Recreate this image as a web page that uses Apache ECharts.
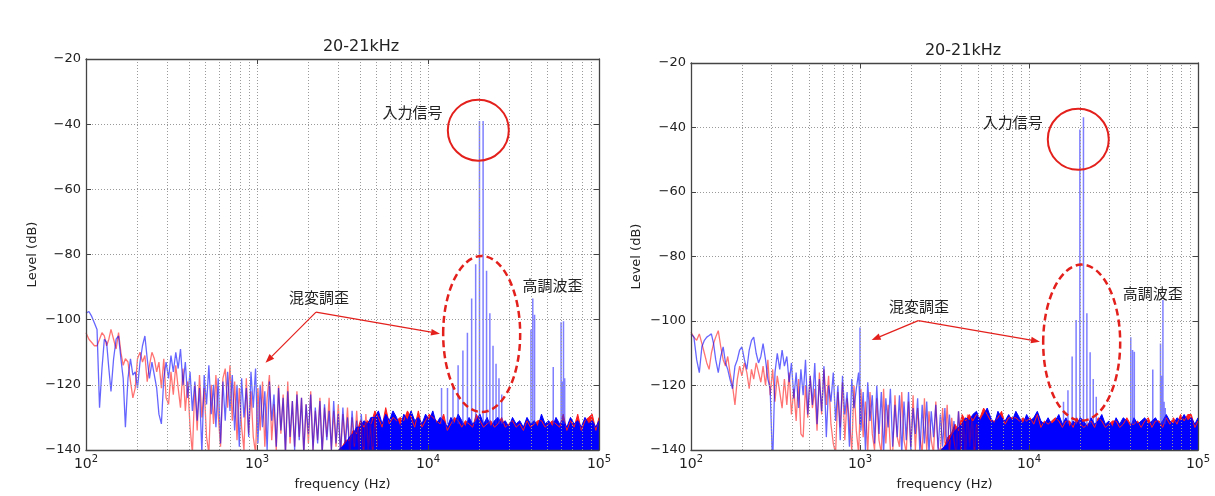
<!DOCTYPE html>
<html><head><meta charset="utf-8">
<script src="https://cdn.jsdelivr.net/npm/echarts@6/dist/echarts.min.js"></script>
<style>html,body{margin:0;padding:0;background:#fff}#c{width:1215px;height:496px}</style>
</head><body><div id="c"></div>
<script>
// ---------------- DATA ----------------
// frequency sampling grid of the low / mid band (Hz)
const freqLow = [
 100,104,108,112,116,120,124,128,132,136,
 140,145,150,155,160,165,170,176,182,188,
 194,200,207,214,221,228,235,243,251,259,
 267,276,285,294,304,314,324,335,346,357,
 369,381,393,406,419,433,447,461,476,491,
 507,523,540,557,575,593,612,632,652,673,
 695,717,740,764,788,813,839,866,894,922,
 951,981,1012,1044,1077,1111,1146,1182,1219,1257,
 1296,1337,1379,1422,1467,1513,1561,1610,1660,1712,
 1766,1821,1878,1937,1998,2061,2126,2193,2262,2333,
 2406,2482,2560,2640,2723,2809,2897,2988,3082,3179,
 3279,3382,3488,3598,3711,3828,3948,4072,4200,4332,
 4468,4608,4753,4902,5056];
// left panel, blue / red traces (dB)
const lowBlueL = [
 -98,-97.5,-99,-101,-103,-127,-115,-106,-107,-115,
 -122,-112,-106,-105,-112,-118,-133,-118,-112,-117,
 -116,-121,-113,-108,-105,-112,-118,-113,-117,-121,
 -129,-132,-118,-113,-118,-111,-116,-110,-115,-109,
 -120,-113,-124,-116,-128,-119,-131,-121,-141,-117,
 -126,-114,-129,-120,-133,-118,-138,-119,-131,-116,
 -128,-117,-134,-120,-139,-118,-130,-121,-136,-116,
 -127,-115,-138,-120,-133,-122,-140,-119,-131,-123,
 -139,-121,-134,-124,-141,-122,-136,-125,-140,-123,
 -137,-124,-141,-126,-135,-123,-140,-127,-138,-125,
 -141,-126,-137,-128,-140,-125,-138,-129,-141,-127,
 -139,-130,-141,-128,-138,-131,-141,-129,-139,-132,
 -141,-130,-139,-133,-141];
const lowRedL = [
 -104,-106,-107,-108,-108,-106,-104,-105,-108,-106,
 -103,-106,-109,-104,-110,-114,-112,-113,-119,-124,
 -121,-112,-110,-113,-111,-119,-114,-110,-112,-116,
 -113,-121,-112,-124,-126,-116,-123,-114,-121,-127,
 -115,-128,-119,-133,-141,-120,-134,-117,-130,-121,
 -136,-141,-120,-132,-117,-129,-139,-118,-115,-127,
 -114,-131,-119,-137,-121,-133,-140,-118,-135,-122,
 -136,-141,-121,-134,-119,-139,-124,-117,-137,-126,
 -140,-120,-135,-123,-141,-119,-138,-125,-139,-122,
 -136,-124,-141,-126,-138,-122,-140,-128,-137,-124,
 -141,-127,-136,-124,-140,-128,-139,-126,-141,-129,
 -138,-127,-141,-130,-139,-128,-140,-131,-141,-129,
 -140,-132,-141,-130,-139];
// right panel, blue / red traces (dB)
const lowBlueR = [
 -104,-105,-112,-116,-108,-106,-105,-104.5,-104,-107,
 -112,-116,-111,-108,-113,-115,-118,-121,-114,-112,
 -109,-108,-112,-115,-109,-106,-105,-110,-113,-111,
 -107,-112,-118,-121,-145,-116,-110,-115,-109,-114,
 -111,-119,-113,-124,-116,-127,-115,-123,-112,-129,
 -117,-126,-113,-132,-118,-128,-114,-136,-120,-125,
 -116,-131,-120,-137,-117,-129,-122,-139,-118,-127,
 -121,-116,-134,-122,-140,-119,-131,-123,-138,-120,
 -135,-122,-141,-124,-133,-121,-139,-126,-136,-123,
 -141,-125,-137,-122,-140,-127,-135,-124,-141,-126,
 -138,-125,-141,-128,-136,-126,-140,-129,-139,-127,
 -141,-129,-138,-131,-141,-128,-139,-132,-140,-130,
 -141,-131,-139,-133,-141];
const lowRedR = [
 -103.5,-105,-106,-104,-107,-110,-113,-115,-110,-107,
 -105,-103,-108,-112,-114,-111,-116,-120,-126,-118,
 -114,-117,-113,-116,-121,-115,-118,-113,-116,-119,
 -114,-120,-112,-123,-115,-125,-117,-122,-127,-118,
 -126,-116,-129,-121,-131,-118,-135,-136,-120,-130,
 -117,-127,-121,-134,-116,-129,-115,-126,-117,-132,
 -138,-141,-122,-133,-119,-137,-124,-131,-140,-120,
 -134,-141,-121,-136,-125,-141,-122,-135,-140,-124,
 -137,-141,-121,-138,-126,-140,-141,-123,-136,-139,
 -122,-137,-141,-125,-139,-123,-140,-127,-136,-141,
 -124,-140,-128,-137,-141,-125,-139,-141,-127,-138,
 -126,-141,-130,-137,-141,-128,-140,-131,-141,-129,
 -139,-130,-141,-132,-140];
// frequency grid of the dense noise floor (Hz)
const freqFloor = [
 3000,3150,3310,3470,3650,3830,4020,4220,4430,4650,
 4890,5130,5390,5660,5940,6240,6550,6880,7220,7580,
 7960,8360,8780,9220,9680,10160,10670,11200,11760,12350,
 12970,13620,14300,15010,15760,16550,17380,18250,19160,20120,
 21120,22180,23290,24450,25670,26960,28300,29720,31200,32760,
 34400,36120,37930,39830,41820,43910,46100,48410,50830,53370,
 56040,58840,61780,64870,68110,71520,75100,78850,82790,86930,
 91280,95840,100000];
// upper edge of the noise floor (dB)
const floorBlueL = [
 -140,-139,-138,-136,-135,-133,-133,-131,-132,-130,
 -130,-128,-132,-129,-131,-128,-130,-133,-129,-131,
 -128,-131,-130,-132,-129,-131,-128,-132,-130,-131,
 -133,-130,-132,-129,-131,-133,-130,-132,-131,-129,
 -132,-130,-133,-131,-130,-132,-131,-133,-130,-132,
 -131,-133,-130,-132,-131,-133,-129,-132,-131,-133,
 -130,-132,-131,-133,-130,-132,-131,-133,-130,-132,
 -131,-133,-131];
const floorRedL = [
 -140,-139,-137,-137,-134,-135,-131,-133,-131,-132,
 -128,-130,-133,-127,-132,-130,-131,-130,-131,-128,
 -130,-133,-128,-133,-131,-129,-130,-131,-132,-129,
 -134,-132,-130,-131,-133,-131,-132,-133,-129,-131,
 -133,-132,-131,-133,-132,-130,-133,-132,-131,-133,
 -132,-134,-131,-133,-132,-131,-131,-133,-132,-131,
 -132,-133,-129,-134,-131,-133,-129,-134,-131,-130,
 -129,-134,-130];
const floorBlueR = [
 -140,-139,-138,-136,-134,-133,-132,-130,-131,-129,
 -128,-131,-129,-127,-130,-132,-128,-130,-131,-129,
 -131,-128,-130,-132,-129,-131,-130,-128,-131,-132,
 -130,-132,-131,-129,-132,-130,-133,-131,-132,-130,
 -131,-133,-130,-132,-131,-129,-132,-131,-133,-130,
 -132,-130,-131,-133,-130,-132,-131,-130,-132,-131,
 -130,-132,-131,-129,-131,-132,-130,-131,-129,-131,
 -130,-132,-130];
const floorRedR = [
 -140,-139,-136,-135,-132,-134,-129,-131,-129,-131,
 -129,-130,-127,-129,-131,-131,-130,-128,-132,-130,
 -130,-130,-131,-130,-131,-130,-132,-129,-133,-131,
 -132,-131,-130,-131,-133,-131,-131,-133,-130,-132,
 -133,-132,-131,-133,-130,-131,-133,-132,-131,-131,
 -133,-132,-130,-132,-132,-131,-133,-131,-130,-133,
 -131,-131,-133,-130,-132,-130,-132,-129,-131,-129,
 -129,-133,-131];
// discrete tones: input, intermodulation and harmonic lines
const spikeFreqL = [12000,13000,14000,15000,16000,17000,18000,19000,20000,21000,22000,23000,24000,25000,26000,27000,40000,41000,42000,54000,60000,61000,62000,63000];
const spikeDbL   = [-121,-121,-120,-114,-109.5,-104,-93.5,-83,-39,-39,-85,-98,-108,-113.5,-118,-123,-103,-93.5,-98.5,-114.5,-100.8,-119,-100.5,-118];
const spikeFreqR = [1000,16000,17000,18000,19000,20000,21000,22000,23000,24000,25000,40000,41000,42000,54000,60000,61000,62000,63000,64000];
const spikeDbR   = [-102,-125,-121.5,-111,-99.7,-40.6,-36.8,-97.6,-109.7,-118,-123.5,-105,-109,-109.5,-115,-107,-117,-93.5,-125,-127];
const spikeBase = -132;
// axis ticks
const yTicks = [-140,-120,-100,-80,-60,-40,-20];
const gridFreqs = [200,300,400,500,600,700,800,900,1000,2000,3000,4000,5000,6000,7000,8000,9000,10000,20000,30000,40000,50000,60000,70000,80000,90000];
const titleText = '20-21kHz';
const xName = 'frequency (Hz)';
const yName = 'Level (dB)';
// annotation anchors (frequency, dB)
const annL = {circle:[19690,-41.85], ellipse:[20600,-104.4], input:[8110,-36.5], harm:[53460,-89.5], imd:[2305,-93.2], vertex:[2213,-97.7], tipA:[1121,-113.2], tipB:[11755,-104.3]};
const annR = {circle:[19570,-43.66], ellipse:[20500,-106.7], input:[8020,-38.5], harm:[54010,-91.4], imd:[2234,-95.3], vertex:[2213,-99.9], tipA:[1172,-105.9], tipB:[11610,-106.4]};

// ---------------- CHART ----------------
const FONT = 'DejaVu Sans';
const CJK = '"Noto Sans CJK JP"';
const gridsPx = [{left:86, top:59, width:513, height:391}, {left:691, top:63, width:507, height:387}];
const yNameGap = [47, 48];

function zip(fs, vs){ const n=Math.min(fs.length, vs.length); const o=[]; for(let i=0;i<n;i++) o.push([fs[i], vs[i]]); return o; }
function spikeData(fs, vs){ const o=[]; const n=Math.min(fs.length, vs.length); for(let i=0;i<n;i++){ o.push([fs[i],spikeBase],[fs[i],vs[i]],[fs[i],spikeBase],[fs[i],'-']); } return o; }
const minus = v => v < 0 ? '\u2212' + Math.abs(v) : String(v);

const xAxes = [], yAxes = [], series = [];
const panels = [
  {lowB: lowBlueL, lowR: lowRedL, flB: floorBlueL, flR: floorRedL, sf: spikeFreqL, sd: spikeDbL},
  {lowB: lowBlueR, lowR: lowRedR, flB: floorBlueR, flR: floorRedR, sf: spikeFreqR, sd: spikeDbR}
];
panels.forEach((p, g) => {
  const lineCol = '#444';
  xAxes.push({type:'log', logBase:10, gridIndex:g, min:100, max:100000, position:'bottom', z:10,
    name:xName, nameLocation:'middle', nameGap:28, nameTextStyle:{fontFamily:FONT, fontSize:13, color:'#222'},
    axisLine:{show:true, onZero:false, lineStyle:{color:lineCol, width:1.3}},
    axisTick:{show:true, inside:true, length:5, lineStyle:{color:lineCol}},
    axisLabel:{margin:4, formatter: v => '{b|10}{s|' + Math.round(Math.log10(v)) + '}',
      rich:{b:{fontFamily:FONT, fontSize:14, color:'#222', lineHeight:20}, s:{fontFamily:FONT, fontSize:10, color:'#222', lineHeight:10, verticalAlign:'top'}}},
    splitLine:{show:false}});
  xAxes.push({type:'log', logBase:10, gridIndex:g, min:100, max:100000, position:'top', z:10,
    axisLine:{show:true, onZero:false, lineStyle:{color:lineCol, width:1.3}},
    axisTick:{show:true, inside:true, length:5, lineStyle:{color:lineCol}},
    axisLabel:{show:false}, splitLine:{show:false}});
  yAxes.push({type:'value', gridIndex:g, min:-140, max:-20, interval:20, position:'left', z:10,
    name:yName, nameLocation:'middle', nameGap:yNameGap[g], nameTextStyle:{fontFamily:FONT, fontSize:13, color:'#222'},
    axisLine:{show:true, onZero:false, lineStyle:{color:lineCol, width:1.3}},
    axisTick:{show:true, inside:true, length:5, lineStyle:{color:lineCol}},
    axisLabel:{margin:5, fontFamily:FONT, fontSize:13, color:'#222', formatter: minus},
    splitLine:{show:false}});
  yAxes.push({type:'value', gridIndex:g, min:-140, max:-20, interval:20, position:'right', z:10,
    axisLine:{show:true, onZero:false, lineStyle:{color:lineCol, width:1.3}},
    axisTick:{show:true, inside:true, length:5, lineStyle:{color:lineCol}},
    axisLabel:{show:false}, splitLine:{show:false}});
  const xi = 2*g, yi = 2*g;
  const gridLines = gridFreqs.map(f => ({xAxis:f})).concat(yTicks.filter(v => v > -140 && v < -20).map(v => ({yAxis:v})));
  series.push({type:'line', xAxisIndex:xi, yAxisIndex:yi, data:[], z:1, silent:true,
    markLine:{silent:true, symbol:['none','none'], animation:false, label:{show:false},
      lineStyle:{color:'#9a9a9a', type:[1,2], width:1}, emphasis:{disabled:true}, data:gridLines}});
  series.push({type:'line', xAxisIndex:xi, yAxisIndex:yi, data:zip(freqFloor, p.flR), showSymbol:false, symbol:'none', z:2,
    lineStyle:{color:'#ff1e1e', width:1}, areaStyle:{origin:'start', color:'#ff1e1e', opacity:1}});
  series.push({type:'line', xAxisIndex:xi, yAxisIndex:yi, data:zip(freqLow, p.lowR), showSymbol:false, symbol:'none', z:2,
    lineStyle:{color:'rgba(255,0,0,0.55)', width:1.3}});
  series.push({type:'line', xAxisIndex:xi, yAxisIndex:yi, data:zip(freqFloor, p.flB), showSymbol:false, symbol:'none', z:2,
    lineStyle:{color:'#0000ff', width:1}, areaStyle:{origin:'start', color:'#0000ff', opacity:1}});
  series.push({type:'line', xAxisIndex:xi, yAxisIndex:yi, data:zip(freqLow, p.lowB), showSymbol:false, symbol:'none', z:2,
    lineStyle:{color:'rgba(0,0,255,0.6)', width:1.3}});
  series.push({type:'line', xAxisIndex:xi, yAxisIndex:yi, data:spikeData(p.sf, p.sd), showSymbol:false, symbol:'none', z:3,
    connectNulls:false, lineStyle:{color:'rgba(40,40,255,0.6)', width:1.5}});
});

const chart = echarts.init(document.getElementById('c'), null, {renderer:'canvas'});
chart.setOption({
  animation:false, backgroundColor:'#fff',
  grid: gridsPx.map(g => Object.assign({containLabel:false}, g)),
  xAxis: xAxes, yAxis: yAxes, series: series
});

// ---------------- ANNOTATIONS ----------------
const RED = '#e3201c';
function arrow(V, T){
  const dx=T[0]-V[0], dy=T[1]-V[1], L=Math.hypot(dx,dy), ux=dx/L, uy=dy/L, hl=9, hw=3.3;
  const B=[T[0]-ux*hl, T[1]-uy*hl];
  return [
    {type:'line', z:20, shape:{x1:V[0], y1:V[1], x2:B[0], y2:B[1]}, style:{stroke:RED, lineWidth:1.2}},
    {type:'polygon', z:20, shape:{points:[T, [B[0]-uy*hw, B[1]+ux*hw], [B[0]+uy*hw, B[1]-ux*hw]]}, style:{fill:RED}}
  ];
}
function txt(pt, s, font){ return {type:'text', z:20, x:pt[0], y:pt[1], style:{text:s, font:font, fill:'#222', align:'center', verticalAlign:'middle'}}; }
const titlesPx = [[361,47],[963,51]];
const els = [];
[annL, annR].forEach((a, g) => {
  const si = g*6;
  const P = v => chart.convertToPixel({seriesIndex:si}, v);
  const c = P(a.circle), e = P(a.ellipse), V = P(a.vertex);
  els.push({type:'circle', z:20, shape:{cx:c[0], cy:c[1], r:30.5}, style:{fill:'none', stroke:RED, lineWidth:2}});
  els.push({type:'ellipse', z:20, shape:{cx:e[0], cy:e[1], rx:38.5, ry:78}, style:{fill:'none', stroke:RED, lineWidth:2.5, lineDash:[7,4]}});
  els.push(...arrow(V, P(a.tipA)), ...arrow(V, P(a.tipB)));
  els.push(txt(P(a.input), '入力信号', '15px ' + CJK));
  els.push(txt(P(a.harm), '高調波歪', '15px ' + CJK));
  els.push(txt(P(a.imd), '混変調歪', '15px ' + CJK));
  els.push(txt(titlesPx[g], titleText, '16px "' + FONT + '"'));
});
chart.setOption({graphic:{elements:els}});
</script></body></html>
